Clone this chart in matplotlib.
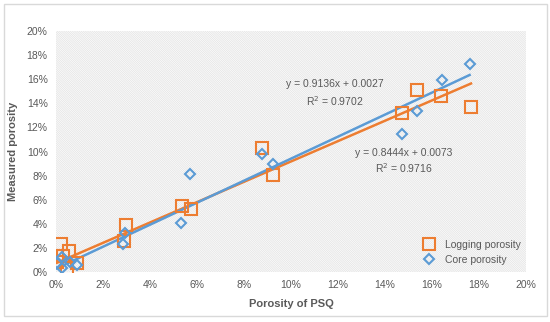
import matplotlib.pyplot as plt
import numpy as np
from matplotlib.patches import Rectangle

# data (percent)
log_x = [0.04, 0.2, 0.3, 0.55, 0.45, 0.9, 2.98, 2.9, 5.36, 5.74, 8.77, 9.23, 14.72, 15.36, 16.4, 17.66]
log_y = [0.83, 2.3, 1.33, 1.74, 0.3, 0.75, 3.9, 2.57, 5.48, 5.23, 10.3, 8.05, 13.2, 15.1, 14.6, 13.7]
core_x = [0.04, 0.27, 0.27, 0.6, 0.89, 2.86, 2.94, 5.32, 5.7, 8.77, 9.23, 14.72, 15.36, 16.43, 17.6]
core_y = [0.75, 0.3, 1.25, 0.8, 0.6, 2.3, 3.2, 4.05, 8.1, 9.8, 9.0, 11.45, 13.35, 15.9, 17.3]

log_fit = (0.8444, 0.0073, 0.9716)
core_fit = (0.9136, 0.0027, 0.9702)

orange = "#ED7D31"
blue = "#5B9BD5"
grey = "#595959"

plt.rcParams["font.family"] = ["Liberation Sans", "DejaVu Sans"]
plt.rcParams["hatch.linewidth"] = 0.4

fig = plt.figure(figsize=(5.5, 3.22), dpi=100)
fig.patches.append(Rectangle((4 / 550, 6 / 322), 543 / 550, 312 / 322, transform=fig.transFigure,
                             fill=False, edgecolor="#d9d9d9", lw=1))
ax = fig.add_axes([56 / 550, 50 / 322, 470 / 550, 241 / 322])

ax.add_patch(Rectangle((0, 0), 1, 1, transform=ax.transAxes, facecolor="white",
                       edgecolor="#dcdcdc", hatch="\\" * 18, lw=0, zorder=0))

for s in ax.spines.values():
    s.set_visible(False)

# trend lines
for xs, (a, b, r2), c in [(log_x, log_fit, orange), (core_x, core_fit, blue)]:
    xx = np.array([min(xs), max(xs)]) / 100
    ax.plot(xx * 100, (a * xx + b) * 100, color=c, lw=1.8, zorder=2)

ax.plot(log_x, log_y, ls="none", marker="s", ms=8, mfc="none", mec=orange, mew=1.5,
        label="Logging porosity", zorder=3)
ax.plot(core_x, core_y, ls="none", marker="D", ms=5, mfc="none", mec=blue, mew=1.5,
        label="Core porosity", zorder=3)

ax.text(11.85, 15.6, "y = 0.9136x + 0.0027", ha="center", va="center", fontsize=7.5, color=grey)
ax.text(11.85, 14.2, "R$^2$ = 0.9702", ha="center", va="center", fontsize=7.5, color=grey)
ax.text(14.8, 9.9, "y = 0.8444x + 0.0073", ha="center", va="center", fontsize=7.5, color=grey)
ax.text(14.8, 8.6, "R$^2$ = 0.9716", ha="center", va="center", fontsize=7.5, color=grey)

ax.set_xlim(0, 20)
ax.set_ylim(0, 20)
ticks = np.arange(0, 21, 2)
ax.set_xticks(ticks)
ax.set_yticks(ticks)
ax.set_xticklabels([f"{t}%" for t in ticks])
ax.set_yticklabels([f"{t}%" for t in ticks])
ax.tick_params(length=0, labelsize=7.5, labelcolor=grey, pad=6)

ax.set_xlabel("Porosity of PSQ", fontsize=8, fontweight="bold", color=grey, labelpad=6)
ax.set_ylabel("Measured porosity", fontsize=8, fontweight="bold", color=grey, labelpad=6)

ax.legend(loc="lower right", frameon=False, fontsize=7.5, labelcolor=grey,
          handlelength=1.2, handletextpad=1.0, borderaxespad=0.3, bbox_to_anchor=(1.005, 0.0))

fig.savefig("out.png", dpi=100)
